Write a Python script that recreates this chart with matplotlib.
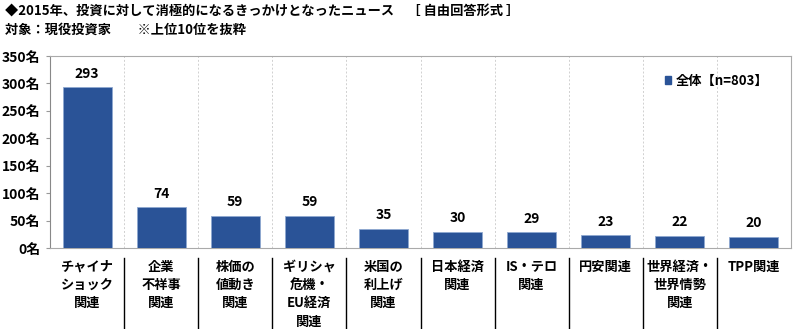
import matplotlib
matplotlib.use("Agg")
import matplotlib.pyplot as plt
from matplotlib.patches import Rectangle

plt.rcParams['font.family'] = ['Noto Sans CJK JP', 'DejaVu Sans']
plt.rcParams['font.weight'] = 'bold'

# データ（上位10位）
categories = ["チャイナ\nショック\n関連", "企業\n不祥事\n関連", "株価の\n値動き\n関連",
              "ギリシャ\n危機・\nEU経済\n関連", "米国の\n利上げ\n関連", "日本経済\n関連",
              "IS・テロ\n関連", "円安関連", "世界経済・\n世界情勢\n関連", "TPP関連"]
counts = [293, 74, 59, 59, 35, 30, 29, 23, 22, 20]
yticks = [0, 50, 100, 150, 200, 250, 300, 350]
series_name = "全体【n=803】"

bar_color = "#2A5397"

fig = plt.figure(figsize=(8, 3.29), dpi=100)
ax = fig.add_axes([50 / 800, 1 - 248 / 329, 741 / 800, 192 / 329])

x = list(range(len(categories)))
ax.bar(x, counts, width=0.66, color=bar_color, edgecolor="#8FA8D0", linewidth=0.6, zorder=3)

for xi, v in zip(x, counts):
    ax.text(xi, v + 12, str(v), ha="center", va="bottom", fontsize=10, fontweight="bold")

ax.set_xlim(-0.5, len(categories) - 0.5)
ax.set_ylim(0, 350)
ax.set_yticks(yticks)
ax.set_yticklabels([f"{t}名" for t in yticks], fontsize=10, fontweight="bold")
ax.set_xticks([])
ax.tick_params(axis="y", length=3, color="#999999", pad=4)

# 縦グリッド（カテゴリ境界）
for b in range(1, len(categories)):
    ax.axvline(b - 0.5, color="#D0D0D0", linestyle=(0, (2, 2)), linewidth=0.7, zorder=1)

for side in ["top", "right", "left", "bottom"]:
    ax.spines[side].set_color("#AAAAAA")
    ax.spines[side].set_linewidth(0.8)
ax.spines["left"].set_color("#888888")

# カテゴリラベルと区切り線
trans = ax.get_xaxis_transform()
for xi, lab in zip(x, categories):
    ax.text(xi, -0.06, lab, transform=trans, ha="center", va="top",
            fontsize=9.5, fontweight="bold", linespacing=1.4)
for b in range(1, len(categories)):
    ax.plot([b - 0.5, b - 0.5], [-0.05, -0.45], transform=trans, color="black",
            linewidth=1.0, clip_on=False)

# 凡例
ax.legend([Rectangle((0, 0), 1, 1, color=bar_color)], [series_name],
          loc="upper right", bbox_to_anchor=(0.985, 0.97), frameon=False,
          handlelength=0.5, handleheight=0.5, handletextpad=0.3,
          prop={"weight": "bold", "size": 9.5})

# タイトル
fig.text(5 / 800, 1 - 12 / 329, "◆2015年、投資に対して消極的になるきっかけとなったニュース　［ 自由回答形式 ］",
         fontsize=9.5, fontweight="bold", va="center", ha="left")
fig.text(5 / 800, 1 - 30 / 329, "対象：現役投資家　　※上位10位を抜粋",
         fontsize=9.5, fontweight="bold", va="center", ha="left")

fig.savefig("out.png", dpi=100)
